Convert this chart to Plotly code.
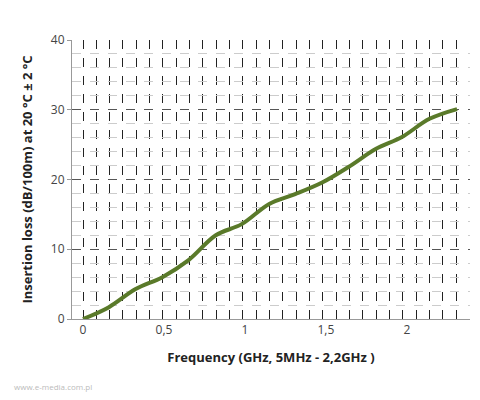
import plotly.graph_objects as go

# Frequency (GHz) and insertion loss (dB/100m)
freq = [0, 0.16, 0.325, 0.49, 0.65, 0.82, 0.98, 1.15, 1.31, 1.48, 1.64, 1.81, 1.97, 2.14, 2.31]
loss = [0, 1.7, 4.3, 6.0, 8.4, 12.0, 13.6, 16.5, 17.9, 19.6, 21.8, 24.4, 26.1, 28.7, 30.1]

fig = go.Figure()
fig.add_trace(go.Scatter(x=freq, y=loss, mode="lines",
                         line=dict(color="#5a7a2a", width=4, shape="spline")))

fig.update_layout(
    width=480, height=400,
    margin=dict(l=64, r=18, t=32, b=89),
    plot_bgcolor="white", paper_bgcolor="white",
    showlegend=False,
    font=dict(family="Open Sans", color="#333"),
)
fig.update_xaxes(
    range=[-0.068, 2.39],
    tickvals=[0, 0.5, 1, 1.5, 2], ticktext=["0", "0,5", "1", "1,5", "2"],
    tickfont=dict(size=12, color="#444"),
    showgrid=False,
    minor=dict(dtick=0.0823, tick0=0, showgrid=True, gridcolor="#222", griddash="dash", gridwidth=1),
    showline=True, linecolor="#999", zeroline=False,
    title=dict(text="<b>Frequency (GHz, 5MHz - 2,2GHz )</b>", font=dict(size=13, color="#222")),
)
fig.update_yaxes(
    range=[0, 40], dtick=10,
    tickfont=dict(size=12, color="#444"),
    gridcolor="#555", griddash="dash", gridwidth=1,
    minor=dict(dtick=2, showgrid=True, gridcolor="#ccc", gridwidth=1),
    showline=True, linecolor="#999", zeroline=False,
    ticks="outside", ticklen=4, tickcolor="#999",
    title=dict(text="<b>Insertion loss (dB/100m) at 20 °C ± 2 °C</b>", font=dict(size=13, color="#222")),
)
fig.add_annotation(text="www.e-media.com.pl", xref="paper", yref="paper", x=-0.15, y=-0.27,
                   xanchor="left", showarrow=False, font=dict(size=8, color="#bbb"))
fig.write_html("out.html")
